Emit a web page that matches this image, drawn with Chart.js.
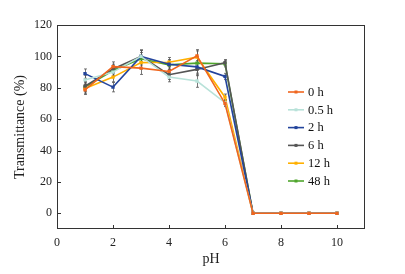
<!DOCTYPE html>
<html><head><meta charset="utf-8">
<script src="https://cdn.jsdelivr.net/npm/chart.js@4/dist/chart.umd.min.js"></script>
<style>html,body{margin:0;padding:0;background:#fff;}canvas{display:block;}</style>
</head><body>
<canvas id="c" width="405" height="274"></canvas>
<script>
const pH = [1,2,3,4,5,6,7,8,9,10];
const seriesLabels = ['0 h','0.5 h','2 h','6 h','12 h','48 h'];
const seriesColors = ['#F0661E','#B8E2D9','#23449C','#555555','#FFB000','#4FA52C'];
const t0h  = [78.7, 93.5, 92.5, 90.4, 100.3, 70.0, 0, 0, 0, 0];
const t05h = [85.0, 90.0, 100.0, 86.8, 84.3, 70.5, 0, 0, 0, 0];
const t2h  = [89.0, 80.4, 100.0, 95.0, 93.3, 87.2, 0, 0, 0, 0];
const t6h  = [81.0, 92.0, 100.0, 88.3, 91.7, 96.0, 0, 0, 0, 0];
const t12h = [79.5, 86.8, 96.0, 96.3, 99.5, 74.0, 0, 0, 0, 0];
const t48h = [80.4, 91.0, 98.5, 94.6, 95.7, 95.3, 0, 0, 0, 0];
const errBars = [3, 3, 4, 3, 4, 2, 0, 0, 0, 0];
const xTicks = [0,2,4,6,8,10];
const yTicks = [0,20,40,60,80,100,120];

const seriesValues = [t0h,t05h,t2h,t6h,t12h,t48h];
const datasets = seriesValues.map((vals,i)=>({
  label: seriesLabels[i],
  data: vals.map((v,j)=>({x:pH[j], y:v})),
  borderColor: seriesColors[i],
  backgroundColor: seriesColors[i],
  borderWidth: 1.6,
  pointRadius: 1.2,
  pointStyle: 'rect',
  tension: 0
}));

const FONT = "'Liberation Serif','Times New Roman',serif";

const decor = {
  id: 'decor',
  beforeDatasetsDraw(chart){
    const {ctx, scales:{x,y}} = chart;
    ctx.save();
    ctx.strokeStyle = '#555';
    ctx.lineWidth = 0.8;
    seriesValues.forEach(vals=>{
      vals.forEach((v,j)=>{
        const e = errBars[j];
        if (!e) return;
        const px = Math.round(x.getPixelForValue(pH[j]))+0.5;
        const y1 = y.getPixelForValue(v+e), y2 = y.getPixelForValue(v-e);
        ctx.beginPath();
        ctx.moveTo(px,y1); ctx.lineTo(px,y2);
        ctx.moveTo(px-1.5,y1); ctx.lineTo(px+1.5,y1);
        ctx.moveTo(px-1.5,y2); ctx.lineTo(px+1.5,y2);
        ctx.stroke();
      });
    });
    ctx.restore();
  },
  afterDraw(chart){
    const {ctx, chartArea:a, scales:{x,y}} = chart;
    ctx.save();
    ctx.strokeStyle = '#333';
    ctx.lineWidth = 1;
    ctx.strokeRect(Math.round(a.left)+0.5, Math.round(a.top)+0.5, Math.round(a.right-a.left)-1, Math.round(a.bottom-a.top)-1);
    ctx.beginPath();
    xTicks.forEach(t=>{
      const px = Math.round(x.getPixelForValue(t))+0.5;
      ctx.moveTo(px, a.bottom); ctx.lineTo(px, a.bottom-4);
    });
    yTicks.forEach(t=>{
      const py = Math.round(y.getPixelForValue(t))+0.5;
      ctx.moveTo(a.left, py); ctx.lineTo(a.left+4, py);
    });
    ctx.stroke();
    // legend
    const lx = a.left + 231, ly = a.top + 67, step = 17.8;
    ctx.font = '12.5px ' + FONT;
    ctx.textBaseline = 'middle';
    ctx.fillStyle = '#111';
    datasets.forEach((d,i)=>{
      const yy = ly + i*step;
      ctx.strokeStyle = d.borderColor;
      ctx.lineWidth = 1.6;
      ctx.beginPath(); ctx.moveTo(lx, yy); ctx.lineTo(lx+16, yy); ctx.stroke();
      ctx.fillStyle = d.borderColor;
      ctx.fillRect(lx+8-1.5, yy-1.5, 3, 3);
      ctx.fillStyle = '#111';
      ctx.fillText(d.label, lx+20, yy+0.5);
    });
    ctx.restore();
  }
};

new Chart(document.getElementById('c'), {
  type: 'line',
  data: { datasets },
  options: {
    responsive: false,
    animation: false,
    layout: { padding: { left: 0, right: 40, top: 25, bottom: 0 } },
    plugins: { legend: { display: false }, tooltip: { enabled: false } },
    scales: {
      x: {
        type: 'linear', min: 0, max: 11,
        afterBuildTicks: s => { s.ticks = xTicks.map(v=>({value:v})); },
        afterFit: s => { s.height = 45; },
        grid: { display: false, drawTicks: false },
        border: { display: false },
        ticks: { color: '#222', font: { family: FONT, size: 12 }, padding: 7, maxRotation: 0 },
        title: { display: true, text: 'pH', color: '#222', font: { family: FONT, size: 14 }, padding: { top: 0, bottom: 6 } }
      },
      y: {
        type: 'linear', min: -10, max: 120,
        afterBuildTicks: s => { s.ticks = yTicks.map(v=>({value:v})); },
        afterFit: s => { s.width = 57; },
        grid: { display: false, drawTicks: false },
        border: { display: false },
        ticks: { color: '#222', font: { family: FONT, size: 12 }, padding: 5 },
        title: { display: true, text: 'Transmittance (%)', color: '#222', font: { family: FONT, size: 14 }, padding: { top: 12, bottom: 0 } }
      }
    }
  },
  plugins: [decor]
});
</script>
</body></html>
